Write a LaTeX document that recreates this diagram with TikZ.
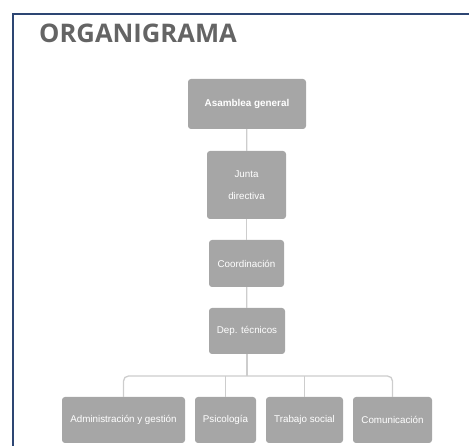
\documentclass[tikz,border=0pt]{standalone}
\usepackage{fontspec}
\setmainfont{Liberation Sans}
\newfontfamily\titlefont{Open Sans}

\definecolor{framecol}{RGB}{45,70,115}
\definecolor{boxcol}{RGB}{166,166,166}
\definecolor{linecol}{RGB}{205,205,205}
\definecolor{titlecol}{RGB}{100,100,100}

\begin{document}
\begin{tikzpicture}[x=1pt, y=-1pt,
    orgbox/.style={fill=boxcol, rounded corners=3pt, text=white, align=center,
      inner sep=0pt, font=\fontsize{9.8}{22}\selectfont},
    orgline/.style={linecol, line width=1.3pt}]
      \useasboundingbox (0,0) rectangle (469,446);
      % frame
      \draw[framecol, line width=1.4pt] (469,14) -- (13,14) -- (13,446);
      \node[anchor=base west, inner sep=0pt, text=titlecol, font=\titlefont\bfseries\fontsize{25.6}{30}\selectfont] (title) at (39,43) {ORGANIGRAMA};
      % boxes
      \node[orgbox, minimum width=118, minimum height=50, font=\bfseries\fontsize{9.9}{12}\selectfont] (asamblea) at (247,104) {Asamblea general};
      \node[orgbox, minimum width=79, minimum height=68] (junta) at (246.5,185) {Junta\\directiva};
      \node[orgbox, minimum width=75, minimum height=47] (coord) at (246.5,263.5) {Coordinación};
      \node[orgbox, minimum width=76, minimum height=46] (dep) at (247,331) {Dep. técnicos};
      \node[orgbox, minimum width=123, minimum height=46] (admin) at (123.5,420) {Administración y gestión};
      \node[orgbox, minimum width=61, minimum height=46] (psico) at (225.5,420) {Psicología};
      \node[orgbox, minimum width=77, minimum height=46] (trabajo) at (304.5,420) {Trabajo social};
      \node[orgbox, minimum width=79, minimum height=46] (comunica) at (392.5,420) {Comunicación};
      \coordinate (bus) at (247,376);
      % connectors
      \draw[orgline] (asamblea) -- (junta);
      \draw[orgline] (junta) -- (coord);
      \draw[orgline] (coord) -- (dep);
      \draw[orgline] (dep) -- (bus);
      \draw[orgline, rounded corners=5pt] (bus) -| (admin);
      \draw[orgline, rounded corners=5pt] (bus) -| (comunica);
      \draw[orgline] (psico.north |- bus) -- (psico);
      \draw[orgline] (trabajo.north |- bus) -- (trabajo);
    \end{tikzpicture}
\end{document}
